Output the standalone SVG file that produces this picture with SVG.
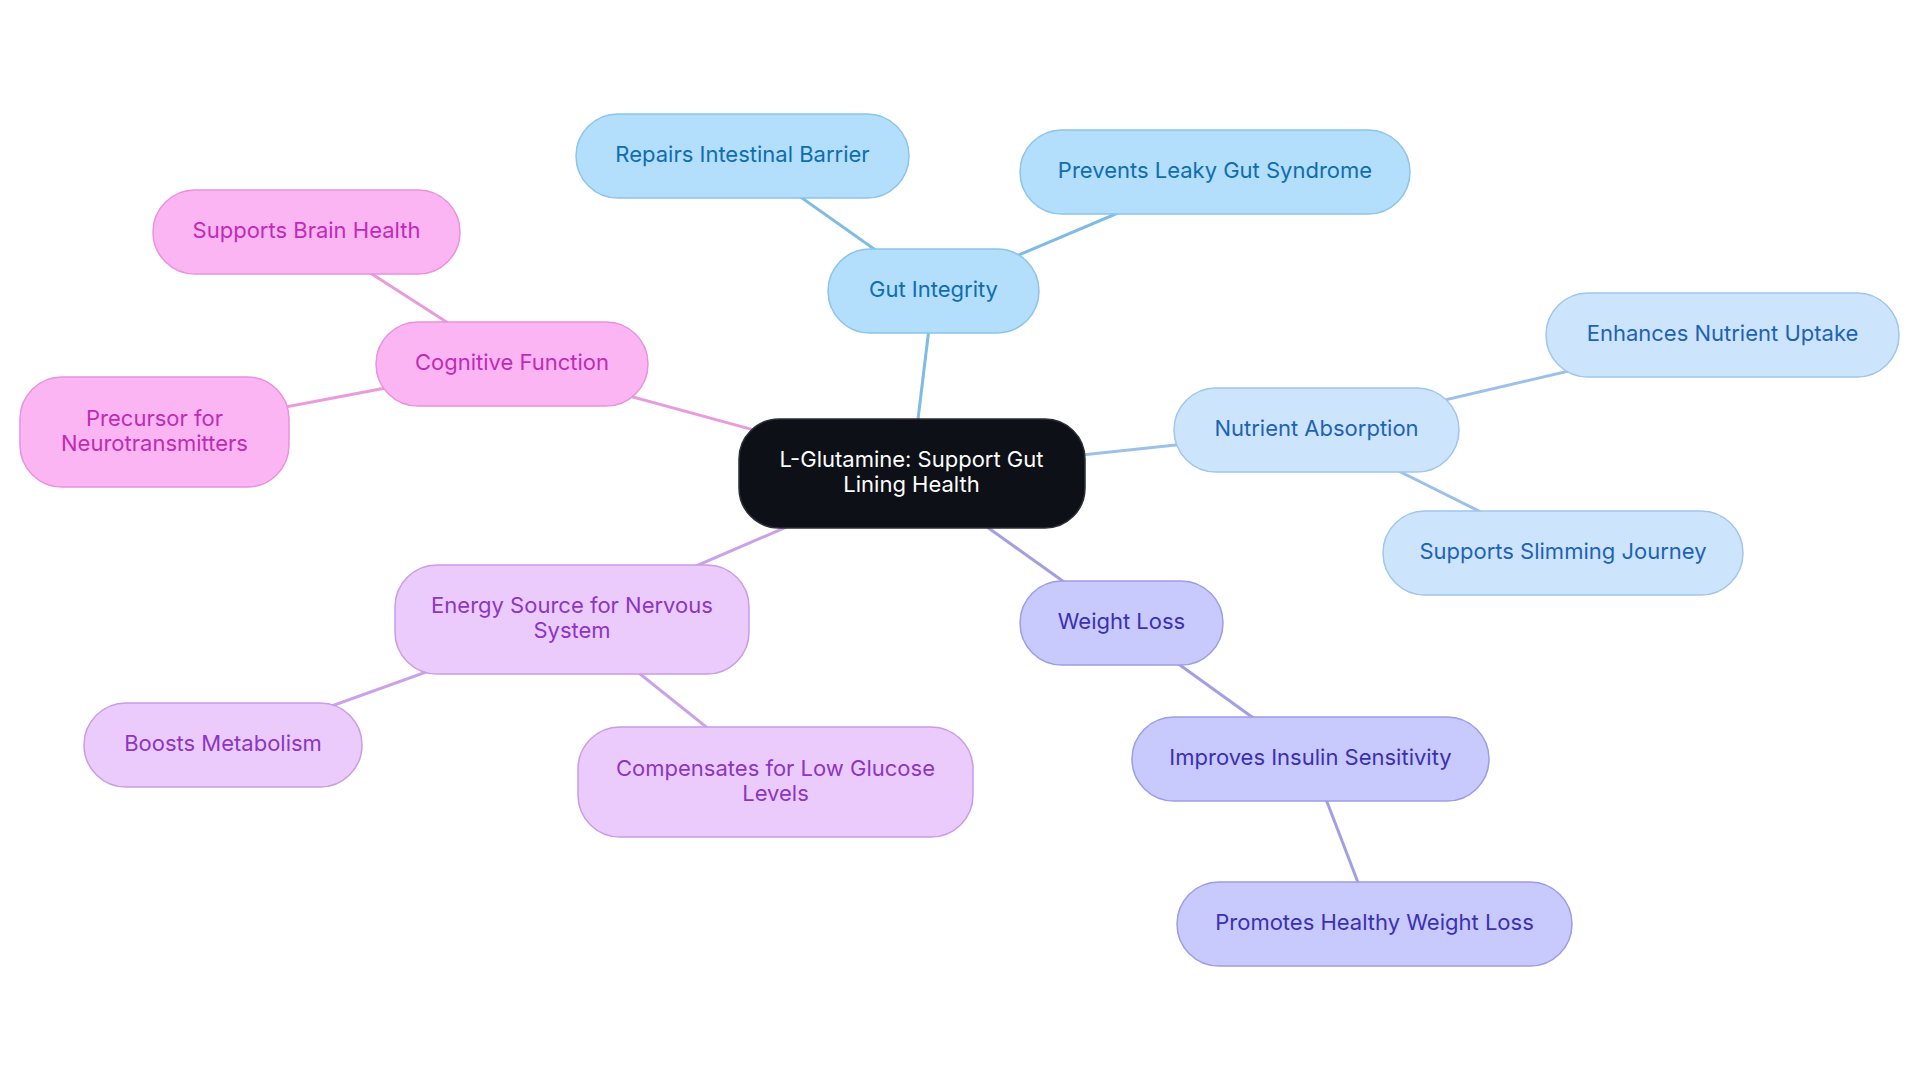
<svg xmlns="http://www.w3.org/2000/svg" width="1920" height="1083" viewBox="0 0 1920 1083">
<style>
text{font-family:"Inter","Noto Sans",sans-serif;font-size:22px;text-anchor:middle}
.ln{stroke-width:3;fill:none}
rect{stroke-width:1.5}
.gut rect{fill:#b3defc;stroke:#8cc4ea}.gut text{fill:#0f6db0}
.nut rect{fill:#cde5fc;stroke:#a0c5ee}.nut text{fill:#1e62b8}
.wl rect{fill:#c8c9fc;stroke:#9d9ce6}.wl text{fill:#3b30b4}
.en rect{fill:#ebcbfc;stroke:#c99ce6}.en text{fill:#8b36c4}
.cf rect{fill:#fcb5f3;stroke:#e891df}.cf text{fill:#c12bb4}
</style>
<rect width="1920" height="1083" fill="#ffffff" stroke="none"/>
<g id="connectors">
<line class="ln" stroke="#7fbbe4" x1="911.5" y1="473" x2="933.5" y2="291"/>
<line class="ln" stroke="#7fbbe4" x1="933.5" y1="291" x2="742.5" y2="156"/>
<line class="ln" stroke="#7fbbe4" x1="933.5" y1="291" x2="1215" y2="172"/>
<line class="ln" stroke="#9cc0ea" x1="911.5" y1="473" x2="1316.5" y2="430"/>
<line class="ln" stroke="#9cc0ea" x1="1316.5" y1="430" x2="1722.5" y2="335"/>
<line class="ln" stroke="#9cc0ea" x1="1316.5" y1="430" x2="1563" y2="553"/>
<line class="ln" stroke="#a29fe2" x1="911.5" y1="473" x2="1121.5" y2="623"/>
<line class="ln" stroke="#a29fe2" x1="1121.5" y1="623" x2="1310.5" y2="759"/>
<line class="ln" stroke="#a29fe2" x1="1310.5" y1="759" x2="1374" y2="924"/>
<line class="ln" stroke="#c9a2e8" x1="911.5" y1="473" x2="572" y2="619.5"/>
<line class="ln" stroke="#c9a2e8" x1="572" y1="619.5" x2="775" y2="782"/>
<line class="ln" stroke="#c9a2e8" x1="572" y1="619.5" x2="223" y2="745"/>
<line class="ln" stroke="#e99cdc" x1="911.5" y1="473" x2="512" y2="364"/>
<line class="ln" stroke="#e99cdc" x1="512" y1="364" x2="306.5" y2="232"/>
<line class="ln" stroke="#e99cdc" x1="512" y1="364" x2="154.5" y2="432"/>
</g>
<g id="center">
<rect x="739" y="419" width="346" height="109" rx="40" fill="#0d1117" stroke="#2a2f36"/>
<text x="911.5" y="467" fill="#ffffff">L-Glutamine: Support Gut</text>
<text x="911.5" y="492" fill="#ffffff">Lining Health</text>
</g>
<g id="gut-integrity" class="gut">
<rect x="828" y="249" width="211" height="84" rx="42"/>
<text x="933.5" y="297">Gut Integrity</text>
</g>
<g id="repairs-intestinal-barrier" class="gut">
<rect x="576" y="114" width="333" height="84" rx="42"/>
<text x="742.5" y="162">Repairs Intestinal Barrier</text>
</g>
<g id="prevents-leaky-gut" class="gut">
<rect x="1020" y="130" width="390" height="84" rx="42"/>
<text x="1215" y="178">Prevents Leaky Gut Syndrome</text>
</g>
<g id="nutrient-absorption" class="nut">
<rect x="1174" y="388" width="285" height="84" rx="42"/>
<text x="1316.5" y="436">Nutrient Absorption</text>
</g>
<g id="enhances-nutrient-uptake" class="nut">
<rect x="1546" y="293" width="353" height="84" rx="42"/>
<text x="1722.5" y="341">Enhances Nutrient Uptake</text>
</g>
<g id="supports-slimming-journey" class="nut">
<rect x="1383" y="511" width="360" height="84" rx="42"/>
<text x="1563" y="559">Supports Slimming Journey</text>
</g>
<g id="weight-loss" class="wl">
<rect x="1020" y="581" width="203" height="84" rx="42"/>
<text x="1121.5" y="629">Weight Loss</text>
</g>
<g id="improves-insulin-sensitivity" class="wl">
<rect x="1132" y="717" width="357" height="84" rx="42"/>
<text x="1310.5" y="765">Improves Insulin Sensitivity</text>
</g>
<g id="promotes-healthy-weight-loss" class="wl">
<rect x="1177" y="882" width="395" height="84" rx="42"/>
<text x="1374.5" y="930">Promotes Healthy Weight Loss</text>
</g>
<g id="energy-source" class="en">
<rect x="395" y="565" width="354" height="109" rx="42"/>
<text x="572" y="613">Energy Source for Nervous</text>
<text x="572" y="638">System</text>
</g>
<g id="compensates-low-glucose" class="en">
<rect x="578" y="727" width="395" height="110" rx="42"/>
<text x="775.5" y="776">Compensates for Low Glucose</text>
<text x="775.5" y="801">Levels</text>
</g>
<g id="boosts-metabolism" class="en">
<rect x="84" y="703" width="278" height="84" rx="42"/>
<text x="223" y="751">Boosts Metabolism</text>
</g>
<g id="cognitive-function" class="cf">
<rect x="376" y="322" width="272" height="84" rx="42"/>
<text x="512" y="370">Cognitive Function</text>
</g>
<g id="supports-brain-health" class="cf">
<rect x="153" y="190" width="307" height="84" rx="42"/>
<text x="306.5" y="238">Supports Brain Health</text>
</g>
<g id="precursor-neurotransmitters" class="cf">
<rect x="20" y="377" width="269" height="110" rx="42"/>
<text x="154.5" y="426">Precursor for</text>
<text x="154.5" y="451">Neurotransmitters</text>
</g>
</svg>
